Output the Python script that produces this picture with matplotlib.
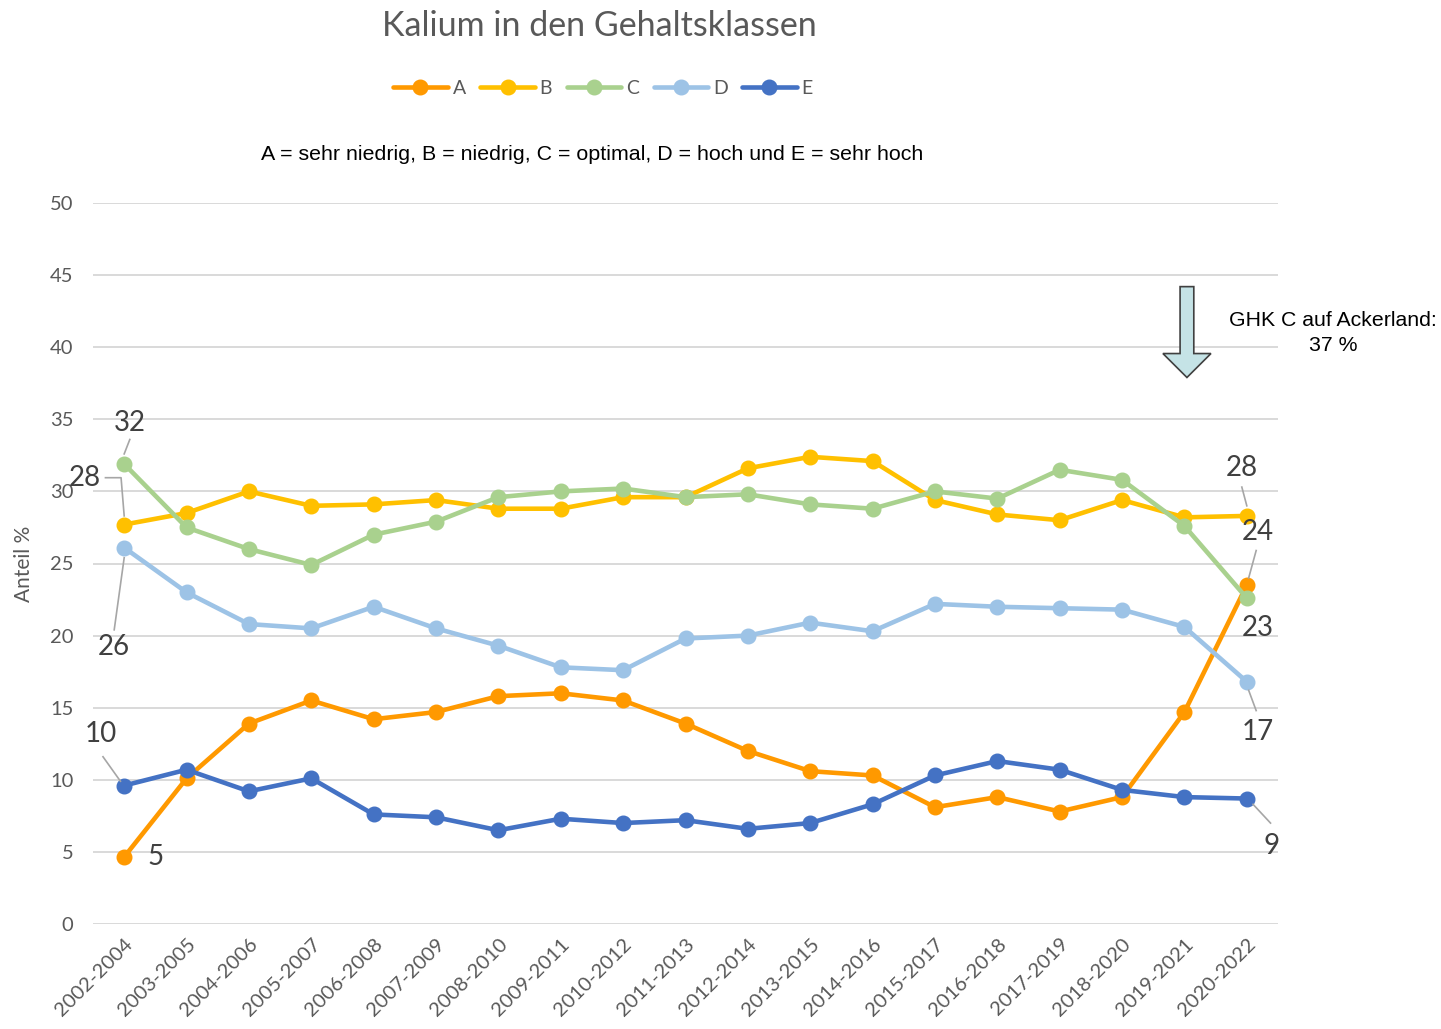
import numpy as np
import matplotlib.pyplot as plt
from matplotlib.patches import FancyArrow

# Zeitraeume
perioden = ['2002-2004', '2003-2005', '2004-2006', '2005-2007', '2006-2008',
            '2007-2009', '2008-2010', '2009-2011', '2010-2012', '2011-2013',
            '2012-2014', '2013-2015', '2014-2016', '2015-2017', '2016-2018',
            '2017-2019', '2018-2020', '2019-2021', '2020-2022']

# Anteile je Gehaltsklasse (%)
klasse_a = [4.65, 10.1, 13.9, 15.5, 14.2, 14.7, 15.8, 16.0, 15.5, 13.9,
            12.0, 10.6, 10.3, 8.1, 8.8, 7.8, 8.8, 14.7, 23.5]
klasse_b = [27.7, 28.5, 30.0, 29.0, 29.1, 29.4, 28.8, 28.8, 29.6, 29.6,
            31.6, 32.4, 32.1, 29.4, 28.4, 28.0, 29.4, 28.2, 28.3]
klasse_c = [31.9, 27.5, 26.0, 24.9, 27.0, 27.9, 29.6, 30.0, 30.2, 29.6,
            29.8, 29.1, 28.8, 30.0, 29.5, 31.5, 30.8, 27.6, 22.6]
klasse_d = [26.1, 23.0, 20.8, 20.5, 22.0, 20.5, 19.3, 17.8, 17.6, 19.8,
            20.0, 20.9, 20.3, 22.2, 22.0, 21.9, 21.8, 20.6, 16.8]
klasse_e = [9.6, 10.7, 9.2, 10.1, 7.6, 7.4, 6.5, 7.3, 7.0, 7.2,
            6.6, 7.0, 8.3, 10.3, 11.3, 10.7, 9.3, 8.8, 8.7]

namen = ['A', 'B', 'C', 'D', 'E']
farben = ['#FF9900', '#FFC000', '#A9D18E', '#9DC3E6', '#4472C4']
serien = [klasse_a, klasse_b, klasse_c, klasse_d, klasse_e]

grau = '#595959'
calibri = ['Lato', 'DejaVu Sans']
arial = ['Liberation Sans', 'DejaVu Sans']

fig = plt.figure(figsize=(14.41, 10.29), dpi=100)
ax = fig.add_axes([93/1441, 105/1029, 1185/1441, 721/1029])

x = np.arange(len(perioden))
for name, farbe, werte in zip(namen, farben, serien):
    ax.plot(x, werte, color=farbe, lw=3.3, marker='o', ms=10.5,
            label=name, solid_capstyle='round')

ax.set_xlim(-0.5, len(perioden) - 0.5)
ax.set_ylim(0, 50)
ax.set_yticks(np.arange(0, 51, 5))
ax.set_xticks(x)
ax.set_xticklabels(perioden, rotation=45, ha='right', rotation_mode='anchor',
                   fontsize=14.5, color=grau, family=calibri)
for t in ax.get_yticklabels():
    t.set_fontsize(14.5)
    t.set_color(grau)
    t.set_family(calibri)
ax.tick_params(axis='x', length=0, pad=8)
ax.tick_params(axis='y', length=0, pad=14)
ax.grid(axis='y', color='#D9D9D9', lw=1.4)
ax.set_axisbelow(True)
for s in ax.spines.values():
    s.set_visible(False)
ax.set_ylabel('Anteil %', fontsize=15, color=grau, family=calibri)
ax.yaxis.set_label_coords(-0.05, 0.5)

# Datenbeschriftungen mit Fuehrungslinien
def label(txt, xt, yt, linie=None):
    ax.text(xt, yt, txt, fontsize=20, color='#404040', family=calibri,
            ha='center', va='center')
    if linie is not None:
        ax.plot(linie[0], linie[1], color='#A6A6A6', lw=1.2, zorder=6)

n = len(perioden) - 1
label('32', 0.09, 34.75, ([0, 0.09], [32.6, 33.6]))
label('28', -0.63, 30.95, ([-0.3, -0.05, 0], [30.95, 30.95, 28.3]))
label('26', -0.16, 19.2, ([0, -0.16], [25.4, 20.4]))
label('10', -0.37, 13.15, ([-0.34, -0.06], [11.6, 9.9]))
label('5', 0.5, 4.65)
label('28', n - 0.08, 31.6, ([n - 0.08, n], [30.3, 29.0]))
label('24', n + 0.18, 27.15, ([n + 0.15, n + 0.03], [25.9, 24.0]))
label('23', n + 0.18, 20.5)
label('17', n + 0.18, 13.3, ([n + 0.03, n + 0.15], [16.2, 14.8]))
label('9', n + 0.4, 5.4, ([n + 0.1, n + 0.38], [8.3, 7.0]))

# Pfeil zum Zielwert
pfeil = FancyArrow(17.04, 44.2, 0, -6.3, width=0.22, head_width=0.77,
                   head_length=1.66, length_includes_head=True,
                   facecolor='#C5E3E6', edgecolor='#404040', lw=1.2,
                   clip_on=False, zorder=7)
ax.add_patch(pfeil)

fig.text(1333/1441, 1 - 333/1029, 'GHK C auf Ackerland:\n37 %', ha='center',
         va='center', fontsize=15.3, family=arial, color='black', linespacing=1.35)

fig.text(599/1441, 1 - 26/1029, 'Kalium in den Gehaltsklassen', ha='center',
         va='center', fontsize=24.5, color=grau, family=calibri)
fig.text(592/1441, 1 - 155/1029,
         'A = sehr niedrig, B = niedrig, C = optimal, D = hoch und E = sehr hoch',
         ha='center', va='center', fontsize=15.4, family=arial, color='black')

leg = fig.legend(loc='center', bbox_to_anchor=(603/1441, 1 - 88/1029), ncol=5,
                 frameon=False, handlelength=2.8, handletextpad=0.25,
                 columnspacing=0.75, prop={'family': calibri, 'size': 14})
for t in leg.get_texts():
    t.set_color(grau)

fig.savefig('out.png', dpi=100)
